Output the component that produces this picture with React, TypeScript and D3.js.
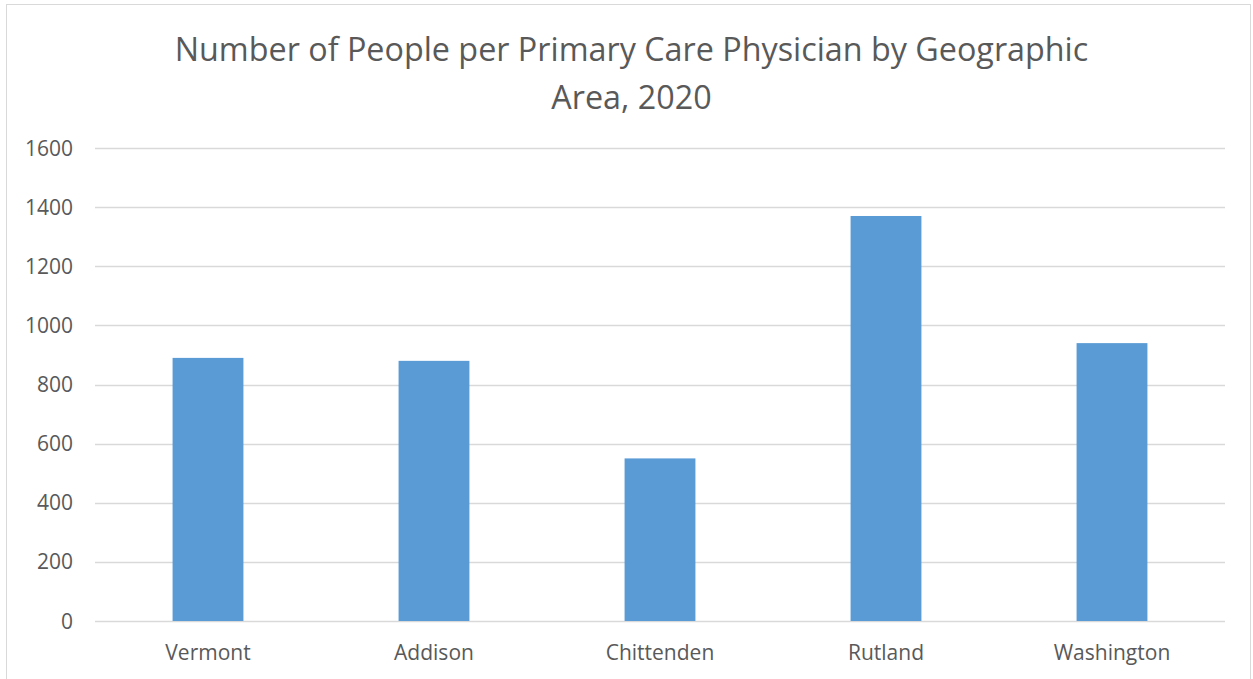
import React from "react";
import * as d3 from "d3";

const categories = ["Vermont", "Addison", "Chittenden", "Rutland", "Washington"];
const values = [890, 880, 550, 1370, 940];
const yTicks = [0, 200, 400, 600, 800, 1000, 1200, 1400, 1600];
const titleLines = ["Number of People per Primary Care Physician by Geographic", "Area, 2020"];

const W = 1253;
const H = 679;
const plot = { left: 95, right: 1225, top: 148, bottom: 621 };
const FONT = "'Open Sans', 'Liberation Sans', sans-serif";
const TEXT = "#595959";
const GRID = "#d9d9d9";
const BAR = "#5b9bd5";

export default function App() {
  const gap = 2.19;
  const inner = gap / (1 + gap);
  const x = d3
    .scaleBand<string>()
    .domain(categories)
    .range([plot.left, plot.right])
    .paddingInner(inner)
    .paddingOuter(inner / 2);
  const y = d3.scaleLinear().domain([0, 1600]).range([plot.bottom, plot.top]);

  return (
    <svg
      width={W}
      height={H}
      style={{ position: "absolute", left: 0, top: 0, background: "#fff" }}
      fontFamily={FONT}
    >
      <rect x={0} y={0} width={W} height={H} fill="#fff" />
      <rect x={6.5} y={4.5} width={W - 9} height={H + 10} fill="none" stroke="#d9d9d9" strokeWidth={1} />
      {titleLines.map((t, i) => (
        <text key={i} x={631.5} y={61 + i * 48} textAnchor="middle" fontSize={32.3} fill={TEXT}>
          {t}
        </text>
      ))}
      {yTicks.map((t) => (
        <g key={t}>
          <line x1={plot.left} x2={plot.right} y1={Math.round(y(t)) + 0.5} y2={Math.round(y(t)) + 0.5} stroke={GRID} strokeWidth={1.3} />
          <text x={73} y={y(t) + 7.5} textAnchor="end" fontSize={21} fill={TEXT}>
            {t}
          </text>
        </g>
      ))}
      {categories.map((c, i) => (
        <rect
          key={c}
          x={x(c)}
          y={y(values[i])}
          width={x.bandwidth()}
          height={y(0) - y(values[i])}
          fill={BAR}
        />
      ))}
      {categories.map((c) => (
        <text key={c} x={(x(c) as number) + x.bandwidth() / 2} y={660} textAnchor="middle" fontSize={21} fill={TEXT}>
          {c}
        </text>
      ))}
    </svg>
  );
}
